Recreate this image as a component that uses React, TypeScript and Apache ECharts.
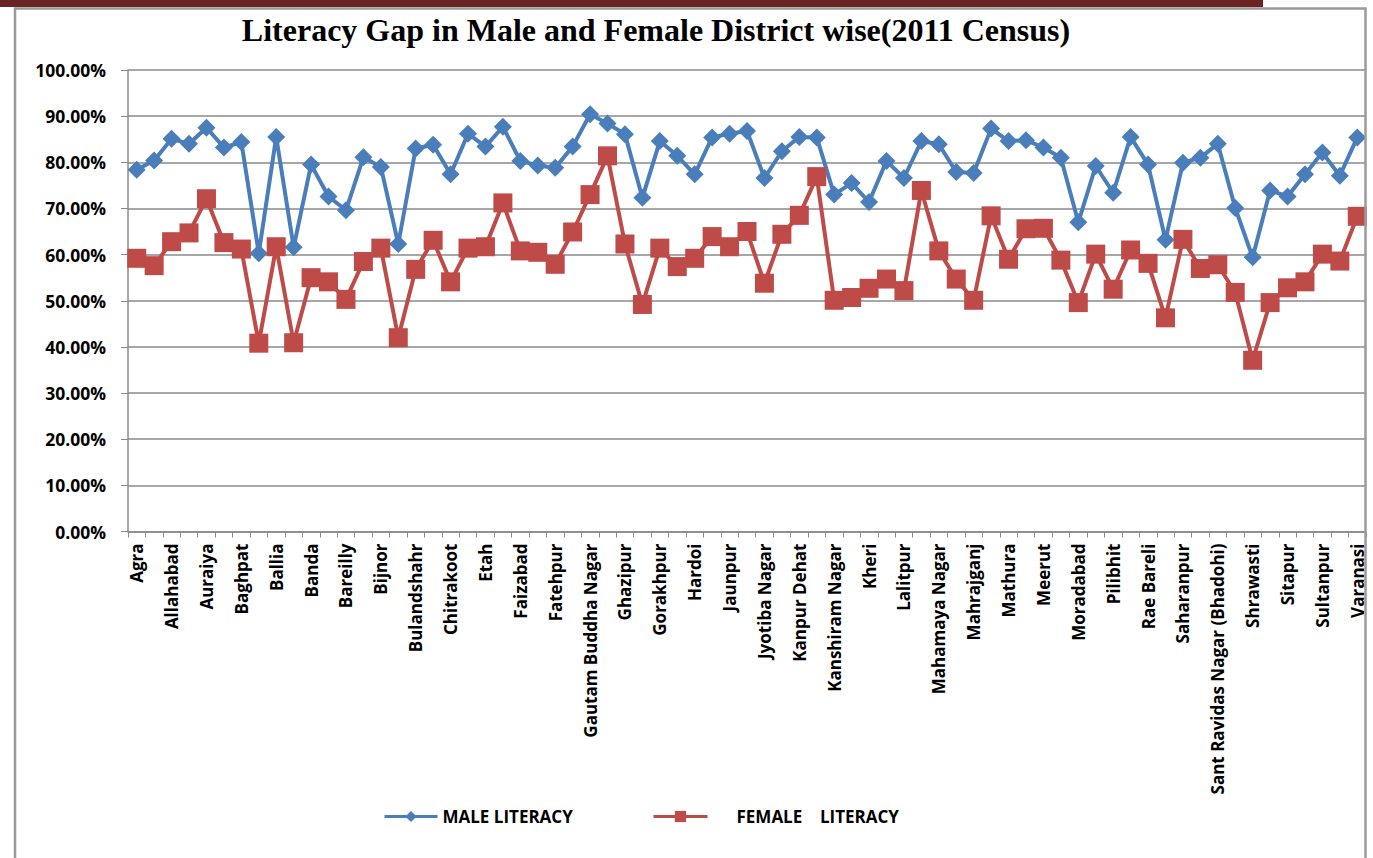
import React, { useEffect, useRef } from "react";
import * as echarts from "echarts";

const categories = [
  "Agra", "Aligarh", "Allahabad", "Ambedkar Nagar", "Auraiya", "Azamgarh", "Baghpat", "Bahraich",
  "Ballia", "Balrampur", "Banda", "Bara Banki", "Bareilly", "Basti", "Bijnor", "Budaun",
  "Bulandshahr", "Chandauli", "Chitrakoot", "Deoria", "Etah", "Etawah", "Faizabad", "Farrukhabad",
  "Fatehpur", "Firozabad", "Gautam Buddha Nagar", "Ghaziabad", "Ghazipur", "Gonda", "Gorakhpur", "Hamirpur",
  "Hardoi", "Jalaun", "Jaunpur", "Jhansi", "Jyotiba Nagar", "Kannauj", "Kanpur Dehat", "Kanpur Nagar",
  "Kanshiram Nagar", "Kaushambi", "Kheri", "Kushinagar", "Lalitpur", "Lucknow", "Mahamaya Nagar", "Mahoba",
  "Mahrajganj", "Mainpuri", "Mathura", "Mau", "Meerut", "Mirzapur", "Moradabad", "Muzaffarnagar",
  "Pilibhit", "Pratapgarh", "Rae Bareli", "Rampur", "Saharanpur", "Sant Kabir Nagar", "Sant Ravidas Nagar (Bhadohi)", "Shahjahanpur",
  "Shrawasti", "Siddharthnagar", "Sitapur", "Sonbhadra", "Sultanpur", "Unnao", "Varanasi",
];

const maleLiteracy = [
  78.4, 80.4, 85.1, 84.0, 87.5, 83.2, 84.4, 60.3, 85.5, 61.6, 79.5, 72.6, 69.6, 81.1, 79.0, 62.3,
  83.0, 83.8, 77.4, 86.2, 83.4, 87.7, 80.3, 79.3, 78.8, 83.4, 90.4, 88.4, 86.1, 72.3, 84.6, 81.4,
  77.4, 85.4, 86.2, 86.8, 76.6, 82.4, 85.5, 85.4, 73.0, 75.5, 71.4, 80.3, 76.6, 84.6, 83.9, 77.9,
  77.7, 87.3, 84.6, 84.8, 83.2, 81.0, 67.0, 79.2, 73.4, 85.5, 79.5, 63.2, 79.9, 81.0, 84.0, 70.1,
  59.4, 73.9, 72.6, 77.4, 82.1, 77.1, 85.4,
];

const femaleLiteracy = [
  59.2, 57.6, 62.8, 64.7, 72.1, 62.6, 61.2, 40.8, 61.7, 40.9, 55.0, 54.1, 50.3, 58.5, 61.4, 42.0,
  56.8, 63.1, 54.1, 61.4, 61.7, 71.2, 60.8, 60.5, 57.9, 64.9, 73.0, 81.4, 62.3, 49.2, 61.4, 57.4,
  59.2, 63.9, 61.7, 65.0, 53.8, 64.4, 68.5, 76.9, 50.1, 50.7, 52.7, 54.7, 52.2, 73.9, 60.8, 54.7,
  50.1, 68.4, 59.0, 65.6, 65.7, 58.8, 49.6, 60.1, 52.5, 61.0, 58.1, 46.3, 63.3, 57.0, 57.8, 51.8,
  37.1, 49.6, 52.8, 54.1, 60.1, 58.6, 68.3,
];

const titleText = "Literacy Gap in Male and Female District wise(2011 Census)";
const maleName = "MALE LITERACY";
const femaleName = "FEMALE    LITERACY";

const SANS = '"Open Sans", "Noto Sans", sans-serif';
const GRID = "#8a8a8a";

export default function App() {
  const ref = useRef<HTMLDivElement>(null);

  useEffect(() => {
    if (!ref.current) return;
    const chart = echarts.init(ref.current, undefined, { renderer: "svg" });
    const legendText = { fontFamily: SANS, fontWeight: "bold", fontSize: 17, color: "#000" };
    chart.setOption({
      animation: false,
      backgroundColor: "#ffffff",
      title: {
        text: titleText,
        left: 651,
        top: 9,
        textAlign: "center",
        textStyle: {
          fontFamily: '"Liberation Serif", "Times New Roman", serif',
          fontWeight: "bold",
          fontSize: 32,
          color: "#000",
        },
      },
      graphic: [
        { type: "rect", shape: { x: 0, y: 0, width: 1263, height: 7 }, style: { fill: "#6B2323" }, z: 10 },
        {
          type: "rect",
          shape: { x: 15, y: 8.5, width: 1350.5, height: 900 },
          style: { fill: "none", stroke: "#9a9a9a", lineWidth: 2.5 },
          z: 10,
        },
      ],
      legend: [
        {
          data: [maleName],
          left: 378,
          top: 803,
          itemWidth: 53,
          itemHeight: 14,
          lineStyle: { width: 3 },
          textStyle: legendText,
        },
        {
          data: [femaleName],
          left: 647,
          top: 803,
          itemWidth: 54,
          itemHeight: 14,
          lineStyle: { width: 3 },
          textStyle: { ...legendText, padding: [0, 0, 0, 24] },
        },
      ],
      grid: { left: 128, right: 7, top: 70, bottom: 326.5, containLabel: false },
      xAxis: {
        type: "category",
        data: categories,
        boundaryGap: true,
        axisLine: { show: true, lineStyle: { color: GRID, width: 1.5 } },
        axisTick: { show: true, interval: 0, length: 6, lineStyle: { color: GRID, width: 1 } },
        axisLabel: {
          interval: 1,
          rotate: 90,
          margin: 12,
          fontFamily: SANS,
          fontWeight: "bold",
          fontSize: 17,
          color: "#000",
        },
        splitLine: { show: false },
      },
      yAxis: {
        type: "value",
        min: 0,
        max: 100,
        interval: 10,
        axisLine: { show: true, lineStyle: { color: GRID, width: 1.5 } },
        axisTick: { show: true, length: 7, lineStyle: { color: GRID, width: 1 } },
        axisLabel: {
          formatter: (v: number) => v.toFixed(2) + "%",
          margin: 22,
          fontFamily: SANS,
          fontWeight: "bold",
          fontSize: 17.5,
          color: "#000",
        },
        splitLine: { show: true, lineStyle: { color: GRID, width: 1.5 } },
      },
      series: [
        {
          name: maleName,
          type: "line",
          data: maleLiteracy,
          symbol: "diamond",
          symbolSize: 18,
          showAllSymbol: true,
          lineStyle: { color: "#4A7EBB", width: 4 },
          itemStyle: { color: "#4A7EBB" },
        },
        {
          name: femaleName,
          type: "line",
          data: femaleLiteracy,
          symbol: "rect",
          symbolSize: 19,
          showAllSymbol: true,
          lineStyle: { color: "#BE4B48", width: 4 },
          itemStyle: { color: "#BE4B48" },
        },
      ],
    });
    return () => chart.dispose();
  }, []);

  return (
    <div
      ref={ref}
      style={{ position: "fixed", left: 0, top: 0, width: 1373, height: 858, background: "#fff" }}
    />
  );
}
